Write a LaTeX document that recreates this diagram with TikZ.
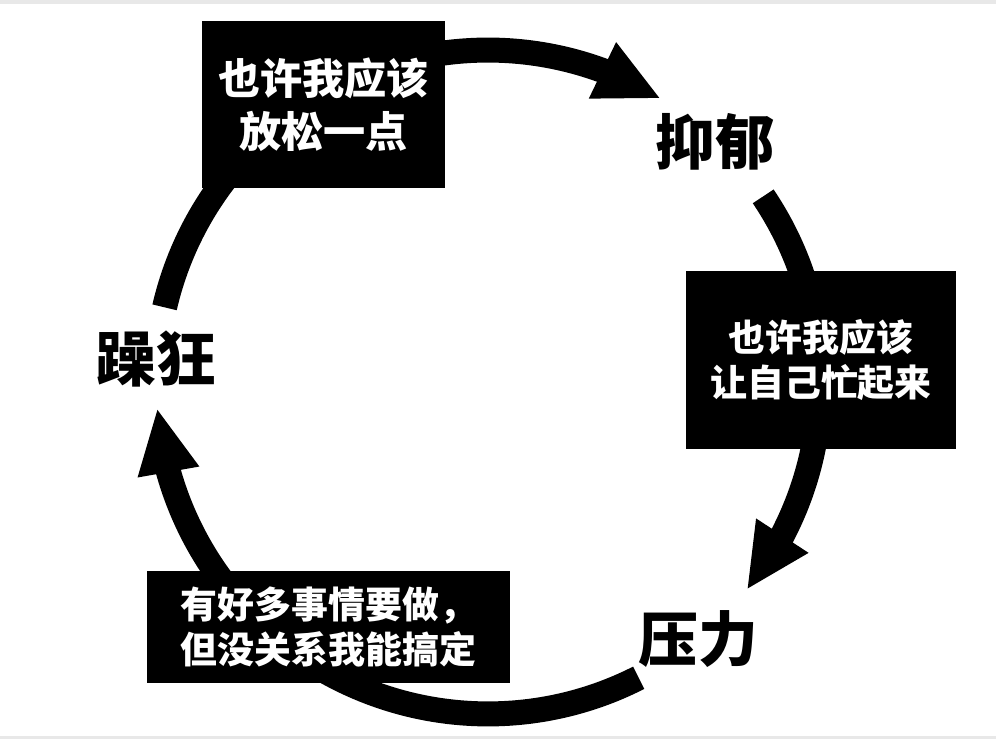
\documentclass[tikz,border=0pt]{standalone}
\usepackage{fontspec}
\newfontfamily\cjkfont{Noto Sans CJK SC}
\usetikzlibrary{arrows.meta, bending}

\begin{document}
\begin{tikzpicture}[
    x=0.02cm, y=0.02cm,
    box/.style={rectangle, fill=black, text=white, inner sep=0pt, align=center},
    bigtext/.style={font=\cjkfont\bfseries\fontsize{24}{30}\selectfont},
    smalltext/.style={font=\cjkfont\bfseries\fontsize{21}{26}\selectfont},
    state/.style={inner sep=0pt, font=\cjkfont\bfseries\fontsize{34}{40}\selectfont},
    cycle/.style={line width=0.5cm, black},
    cyclearrow/.style={cycle, -{Triangle[width=1.15cm, length=1.3cm, flex]}}
]
\useasboundingbox (0,0) rectangle (996,739);

% screenshot edges
\fill[black!9] (0,735) rectangle (996,739);
\fill[black!9] (0,0) rectangle (996,3);

% Points on the cycle
\coordinate (centre) at (488,357);
\coordinate (s1) at ([shift={(100:6.64cm)}]centre);
\coordinate (s2) at ([shift={(34:6.64cm)}]centre);
\coordinate (s3) at ([shift={(-63:6.64cm)}]centre);
\coordinate (s4) at ([shift={(167:6.64cm)}]centre);

% Arcs of the cycle
\draw[cyclearrow] (s1) arc[start angle=100, end angle=58.6, radius=6.64cm];
\draw[cyclearrow] (s2) arc[start angle=34, end angle=-38.8, radius=6.64cm];
\draw[cyclearrow] (s3) arc[start angle=-63, end angle=-175.5, radius=6.64cm];
\draw[cycle] (s4) arc[start angle=167, end angle=135, radius=6.64cm];

% States
\node[state] (depress) at (715,597) {抑郁};
\node[state] (stress) at (698,100) {压力};
\node[state] (mania) at (156,380) {躁狂};

% Thought boxes
\node[box, bigtext, minimum width=4.86cm, minimum height=3.34cm] (relax) at (323.5,634.5) {也许我应该\\放松一点};
\node[box, smalltext, minimum width=5.4cm, minimum height=3.56cm] (busy) at (821,379) {也许我应该\\让自己忙起来};
\node[box, smalltext, minimum width=7.26cm, minimum height=2.24cm] (cope) at (328.5,112) {有好多事情要做，\\但没关系我能搞定};

\end{tikzpicture}
\end{document}
